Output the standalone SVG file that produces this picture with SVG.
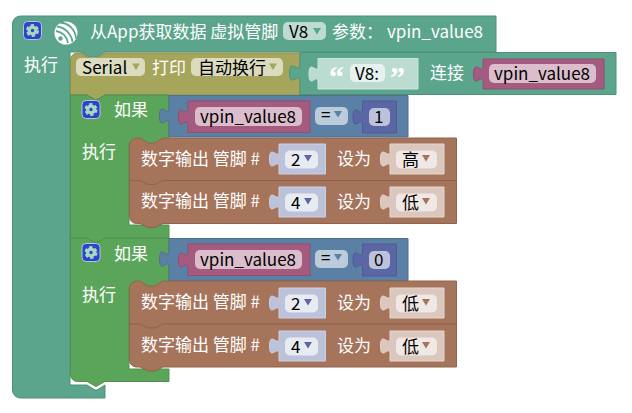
<svg xmlns="http://www.w3.org/2000/svg" width="632" height="413" viewBox="0 0 632 413">
<style>
text{font-family:"Noto Sans CJK SC","Noto Sans",sans-serif;font-size:17px;fill:#fff;dominant-baseline:central}
.f text,text.k{fill:#000}
.teal{fill:#5ba58c;stroke:#4f9079}
.olive{fill:#a5a55b;stroke:#8f8f4f}
.green{fill:#5ba55b;stroke:#4f904f}
.blue{fill:#5b80a5;stroke:#4f6f90}
.brown{fill:#a5745b;stroke:#8f644f}
.pink{fill:#a55b80;stroke:#8f4f6f}
.purple{fill:#5b67a5;stroke:#4f5a90}
.ltext{fill:#bddcd1;stroke:#cde5dc}
.lpin{fill:#bdc2db;stroke:#cdd1e4}
.lval{fill:#dbc7bd;stroke:#e5d7d0}
.fo{fill:#dbdbbd}.ft{fill:#bddbd1}.fp{fill:#dbbdcc}.fb{fill:#bdccdb}.fn{fill:#bdc2db}.fw{fill:#e9ebf3}.fv{fill:#f0e8e4}.fl{fill:#e6f2ee}
.ao{fill:#a5a55b}.at{fill:#5ba58c}.ab{fill:#5b80a5}.an{fill:#5b67a5}.ar{fill:#a5745b}
.gb{fill:#2b44c8;stroke:#b8c2e8;stroke-width:1}
.gr{fill:none;stroke:#a9d6c0;stroke-width:3.4}
.gd{fill:none;stroke:#a9d6c0;stroke-width:3;stroke-dasharray:3.1 2.2}
</style>
<defs>
<g id="gear"><rect class="gb" x="0.5" y="0.5" width="18" height="18" rx="4"/><circle class="gr" cx="9.5" cy="9.5" r="3.4"/><circle class="gd" cx="9.5" cy="9.5" r="5"/></g>
<path id="ad" d="M0,0h8l-4,6.500z"/>
</defs>
<g id="connectors"></g>
<g id="block-app">
<path class="teal" d="M12.5,24a8,8 0 0 1 8,-8H496V52H105l-8,5h-8l-8,-5H70V385H87l8,5h2l8,-5V398H20.5a8,8 0 0 1 -8,-8z"/>
<use href="#gear" x="23" y="21"/>
<g id="espressif-icon"><circle cx="66" cy="33" r="11.5" fill="#fff"/><path d="M60,22.500a17,17 0 0 1 16,16M57,26.500a18,18 0 0 1 15.500,15.500M56,31a14,14 0 0 1 12,12" fill="none" stroke="#5ba58c" stroke-width="1.800"/><circle cx="60.500" cy="38.500" r="2.200" fill="#5ba58c"/></g>
<text x="90" y="30">从App获取数据 虚拟管脚</text>
<g class="f"><rect class="ft" x="283" y="22" width="43" height="18" rx="5"/><text x="289" y="30">V8</text></g>
<use href="#ad" class="at" x="313" y="28"/>
<text x="332" y="30">参数：</text>
<text x="387" y="30">vpin_value8</text>
<text x="24" y="63">执行</text>
</g>
<g id="block-serial">
<path class="olive" d="M70.500,60a7,7 0 0 1 7,-7H81l8,5h8l8,-5H300V95H105l-9,5-9,-5H70.500z"/>
<g class="f"><rect class="fo" x="76" y="58" width="69" height="18" rx="5"/><text x="82" y="66">Serial</text></g>
<use href="#ad" class="ao" x="132" y="63.500"/>
<text x="152" y="66">打印</text>
<g class="f"><rect class="fo" x="191" y="58" width="92" height="18" rx="5"/><text x="198" y="66">自动换行</text></g>
<use href="#ad" class="ao" x="269" y="63.500"/>
</g>
<g id="block-concat">
<path class="teal" d="M300,52.500H616V94.500H300V81c0,-10 -10.500,8 -10.500,-8s10.500,2 10.500,-8z"/>
<path class="ltext" d="M318,58.500H418V89H318V82c0,-10 -9,8 -9,-8s9,2 9,-8z"/>
<text x="329" y="70" style="font-family:'Liberation Serif',serif;font-size:30px;font-weight:bold" dy="6">“</text>
<g class="f"><rect class="fl" x="350" y="64" width="35" height="18" rx="5"/><text x="355" y="72">V8:</text></g>
<text x="390" y="70" style="font-family:'Liberation Serif',serif;font-size:30px;font-weight:bold" dy="6">”</text>
<text x="430" y="71">连接</text>
<path class="pink" d="M483,59H604V89H483V82c0,-10 -9.500,8 -9.500,-8s9.500,2 9.500,-8z"/>
<g class="f"><rect class="fp" x="489" y="64" width="107" height="19" rx="5"/><text x="494" y="72">vpin_value8</text></g>
</g>
<g id="block-if1">
<path class="green" d="M70.500,95H87l9,5 9,-5H169V144H129V225H169V238H105l-9,5-9,-5H70.500z"/>
<use href="#gear" x="81.500" y="100"/>
<text x="114" y="108">如果</text>
<text x="82" y="150">执行</text>
</g>
<g id="logic-eq1">
<path class="blue" d="M169,95.500H408V137H169V124c0,-10 -9.500,8 -9.500,-8s9.500,2 9.500,-8z"/>
<path class="pink" d="M188,101H310V132.500H188V125c0,-10 -9.500,8 -9.500,-8s9.500,2 9.500,-8z"/>
<g class="f"><rect class="fp" x="195" y="107" width="107" height="19" rx="5"/><text x="200" y="115">vpin_value8</text></g>
<g class="f"><rect class="fb" x="315" y="107" width="33" height="18" rx="5"/><text x="321" y="113">=</text></g>
<use href="#ad" class="ab" x="334" y="111"/>
<path class="purple" d="M362.500,101H396.500V133H362.500V125c0,-10 -9.500,8 -9.500,-8s9.500,2 9.500,-8z"/>
<g class="f"><rect class="fn" x="369" y="108" width="21" height="18" rx="5"/><text x="374" y="115">1</text></g>
</g>
<g id="dw-1">
<path class="brown" d="M129.500,145a7,7 0 0 1 7,-7H140l8,5h7l8,-5H456.500V180.500H163l-8,4h-7l-8,-4H129.500z"/>
<text x="141" y="157">数字输出 管脚 #</text>
<path class="lpin" d="M279,144H325.500V174H279V167c0,-10 -9.500,8 -9.500,-8s9.500,2 9.500,-8z"/>
<g class="f"><rect class="fw" x="285" y="150.500" width="33" height="18" rx="5"/><text x="291" y="158">2</text></g>
<use href="#ad" class="an" x="304" y="155"/>
<text x="337" y="157">设为</text>
<path class="lval" d="M390,144H444V174H390V167c0,-10 -9.500,8 -9.500,-8s9.500,2 9.500,-8z"/>
<g class="f"><rect class="fv" x="396" y="150.500" width="41" height="18" rx="5"/><text x="402" y="158">高</text></g>
<use href="#ad" class="ar" x="422" y="155"/>
</g>
<g id="dw-2">
<path class="brown" d="M129.500,180.500H140l8,4h7l8,-4H456.500V223.500H163l-8,4h-7l-8,-4H136.500a7,7 0 0 1 -7,-7z"/>
<text x="141" y="199.500">数字输出 管脚 #</text>
<path class="lpin" d="M279,187H325.500V217H279V210c0,-10 -9.500,8 -9.500,-8s9.500,2 9.500,-8z"/>
<g class="f"><rect class="fw" x="285" y="193.500" width="33" height="18" rx="5"/><text x="291" y="201">4</text></g>
<use href="#ad" class="an" x="304" y="198"/>
<text x="337" y="200">设为</text>
<path class="lval" d="M390,187H444V217H390V210c0,-10 -9.500,8 -9.500,-8s9.500,2 9.500,-8z"/>
<g class="f"><rect class="fv" x="396" y="193.500" width="41" height="18" rx="5"/><text x="402" y="201">低</text></g>
<use href="#ad" class="ar" x="422" y="198"/>
</g>
<g id="block-if2">
<path class="green" d="M70.500,238H87l9,5 9,-5H169V288H129V369H169V381.500H105l-9,5-9,-5H77.500a7,7 0 0 1 -7,-7z"/>
<use href="#gear" x="81.500" y="243"/>
<text x="114" y="252">如果</text>
<text x="82" y="293">执行</text>
</g>
<g id="logic-eq2">
<path class="blue" d="M169,238.500H408V281H169V267c0,-10 -9.500,8 -9.500,-8s9.500,2 9.500,-8z"/>
<path class="pink" d="M188,244H310V275.500H188V268c0,-10 -9.500,8 -9.500,-8s9.500,2 9.500,-8z"/>
<g class="f"><rect class="fp" x="195" y="250" width="107" height="19" rx="5"/><text x="200" y="258">vpin_value8</text></g>
<g class="f"><rect class="fb" x="315" y="250" width="33" height="18" rx="5"/><text x="321" y="256">=</text></g>
<use href="#ad" class="ab" x="334" y="254"/>
<path class="purple" d="M362.500,244H396.500V276H362.500V268c0,-10 -9.500,8 -9.500,-8s9.500,2 9.500,-8z"/>
<g class="f"><rect class="fn" x="369" y="251" width="21" height="18" rx="5"/><text x="374" y="258">0</text></g>
</g>
<g id="dw-3">
<path class="brown" d="M129.500,288a7,7 0 0 1 7,-7H140l8,5h7l8,-5H456.500V324H163l-8,4h-7l-8,-4H129.500z"/>
<text x="141" y="300">数字输出 管脚 #</text>
<path class="lpin" d="M279,288H325.500V318H279V311c0,-10 -9.500,8 -9.500,-8s9.500,2 9.500,-8z"/>
<g class="f"><rect class="fw" x="285" y="294.500" width="33" height="18" rx="5"/><text x="291" y="302">2</text></g>
<use href="#ad" class="an" x="304" y="299"/>
<text x="337" y="301">设为</text>
<path class="lval" d="M390,288H444V318H390V311c0,-10 -9.500,8 -9.500,-8s9.500,2 9.500,-8z"/>
<g class="f"><rect class="fv" x="396" y="294.500" width="41" height="18" rx="5"/><text x="402" y="302">低</text></g>
<use href="#ad" class="ar" x="422" y="299"/>
</g>
<g id="dw-4">
<path class="brown" d="M129.500,324H140l8,4h7l8,-4H456.500V367H163l-8,4h-7l-8,-4H136.500a7,7 0 0 1 -7,-7z"/>
<text x="141" y="343">数字输出 管脚 #</text>
<path class="lpin" d="M279,331H325.500V361H279V354c0,-10 -9.500,8 -9.500,-8s9.500,2 9.500,-8z"/>
<g class="f"><rect class="fw" x="285" y="337.500" width="33" height="18" rx="5"/><text x="291" y="345">4</text></g>
<use href="#ad" class="an" x="304" y="342"/>
<text x="337" y="344">设为</text>
<path class="lval" d="M390,331H444V361H390V354c0,-10 -9.500,8 -9.500,-8s9.500,2 9.500,-8z"/>
<g class="f"><rect class="fv" x="396" y="337.500" width="41" height="18" rx="5"/><text x="402" y="345">低</text></g>
<use href="#ad" class="ar" x="422" y="342"/>
</g>
</svg>
